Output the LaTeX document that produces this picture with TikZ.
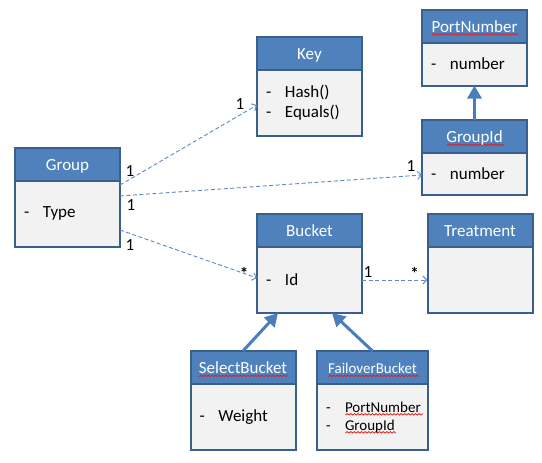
\documentclass[tikz,border=0pt]{standalone}
\usepackage{fontspec}
\setmainfont{Carlito}
\usetikzlibrary{arrows.meta,positioning,calc}

\definecolor{hdrblue}{HTML}{4F81BD}
\definecolor{edgeblue}{HTML}{3A5F8B}
\definecolor{bodygray}{HTML}{F2F2F2}
\definecolor{linkblue}{HTML}{5A8AC6}
\definecolor{isablue}{HTML}{4A7EBB}
\definecolor{spellred}{HTML}{E02020}

\newbox\wavebox
\newcount\wavek
\newdimen\wavex
\newcommand{\attr}[1]{\makebox[19pt][l]{-}#1}
% red squiggle under a word
\newcommand{\spell}[1]{\setbox\wavebox=\hbox{#1}\leavevmode
  \rlap{\smash{\lower3.5pt\hbox{\pgfpicture
    \pgfsetstrokecolor{spellred}\pgfsetlinewidth{0.8pt}\pgfsetdash{}{0pt}%
    \pgfpathmoveto{\pgfpointorigin}%
    \wavek=0 \wavex=0pt
    \loop\ifdim\wavex<\wd\wavebox
      \advance\wavek by 1
      \advance\wavex by 1.8pt
      \ifodd\wavek\pgfpathlineto{\pgfpoint{\wavex}{1.5pt}}\else\pgfpathlineto{\pgfpoint{\wavex}{0pt}}\fi
    \repeat
    \pgfusepath{stroke}%
  \endpgfpicture}}}\box\wavebox}

\begin{document}
\begin{tikzpicture}[
    x=1pt,
    y=-1pt,
    hdr/.style={draw=edgeblue, line width=2pt, fill=hdrblue, text=white, minimum width=105pt, minimum height=33pt, inner sep=0pt, outer sep=0pt, text height=12pt, text depth=0pt, font=\fontsize{17}{20}\selectfont},
    bdy/.style={draw=edgeblue, line width=2pt, fill=bodygray, minimum width=105pt, text width=87pt, inner xsep=9pt, inner ysep=0pt, outer sep=0pt, align=left, anchor=north, font=\fontsize{17}{20}\selectfont},
    link/.style={draw=linkblue, line width=0.9pt, dash pattern=on 4pt off 2.5pt, -{Straight Barb[length=4pt,width=8pt]}},
    isa/.style={draw=isablue, line width=3pt, -{Triangle[length=13pt,width=14pt]}},
    mult/.style={inner sep=0pt, font=\fontsize{17}{17}\selectfont}
]
\useasboundingbox (0,0) rectangle (542,463);

% --- Klassen ---
\node[hdr] (groupH) at (67.5,164) {Group};
\node[bdy, minimum height=66pt] (group) at (groupH.south) {\attr{Type}};

\node[hdr] (keyH) at (309.5,53.5) {Key};
\node[bdy, minimum height=66pt] (key) at (keyH.south) {\attr{Hash()}\\\attr{Equals()}};

\node[hdr] (portH) at (474.5,26) {\spell{PortNumber}};
\node[bdy, minimum height=43pt] (port) at (portH.south) {\attr{number}};

\node[hdr] (giH) at (474.5,136.5) {\spell{GroupId}};
\node[bdy, minimum height=42pt] (gi) at (giH.south) {\attr{number}};

\node[hdr] (bucketH) at (309.5,230.5) {Bucket};
\node[bdy, minimum height=66pt] (bucket) at (bucketH.south) {\attr{Id}};

\node[hdr] (treatH) at (480,230.5) {Treatment};
\node[bdy, minimum height=66pt] (treat) at (treatH.south) {};

\node[hdr] (sbH) at (243,367.5) {\spell{SelectBucket}};
\node[bdy, minimum height=66pt] (sb) at (sbH.south) {\attr{Weight}};

\node[hdr, minimum width=111pt, font=\fontsize{15}{18}\selectfont] (fbH) at (372.5,367.5) {\spell{FailoverBucket}};
\node[bdy, minimum height=66pt, text width=93pt, font=\fontsize{15}{18}\selectfont] (fb) at (fbH.south) {\attr{\spell{PortNumber}}\\\attr{\spell{GroupId}}};

% --- Assoziationen ---
\draw[link] (group.east |- 0,185) -- (key.west |- 0,105)
    node[mult, at start, xshift=10pt, yshift=14pt] (m1) {1}
    node[mult, at end, xshift=-17pt, yshift=1pt] (m2) {1};

\draw[link] (group.east |- 0,196) -- (gi.west |- 0,175)
    node[mult, at start, xshift=11pt, yshift=-9pt] (m3) {1}
    node[mult, at end, xshift=-11pt, yshift=9pt] (m4) {1};

\draw[link] (group.east |- 0,230) -- (bucket.west |- 0,278)
    node[mult, at start, xshift=10pt, yshift=-15pt] (m5) {1}
    node[mult, at end, xshift=-13pt, yshift=5pt] (m6) {\textbf{*}};

\draw[link] (bucket.east |- 0,280) -- (treat.west |- 0,280)
    node[mult, at start, xshift=6pt, yshift=8pt] (m7) {1}
    node[mult, at end, xshift=-13pt, yshift=7pt] (m8) {\textbf{*}};

% --- Vererbung ---
\draw[isa] (sbH.north) -- (bucket.south -| 278,0);
\draw[isa] (fbH.north) -- (bucket.south -| 332,0);
\draw[isa] (giH.north) -- (port.south);

\end{tikzpicture}
\end{document}
